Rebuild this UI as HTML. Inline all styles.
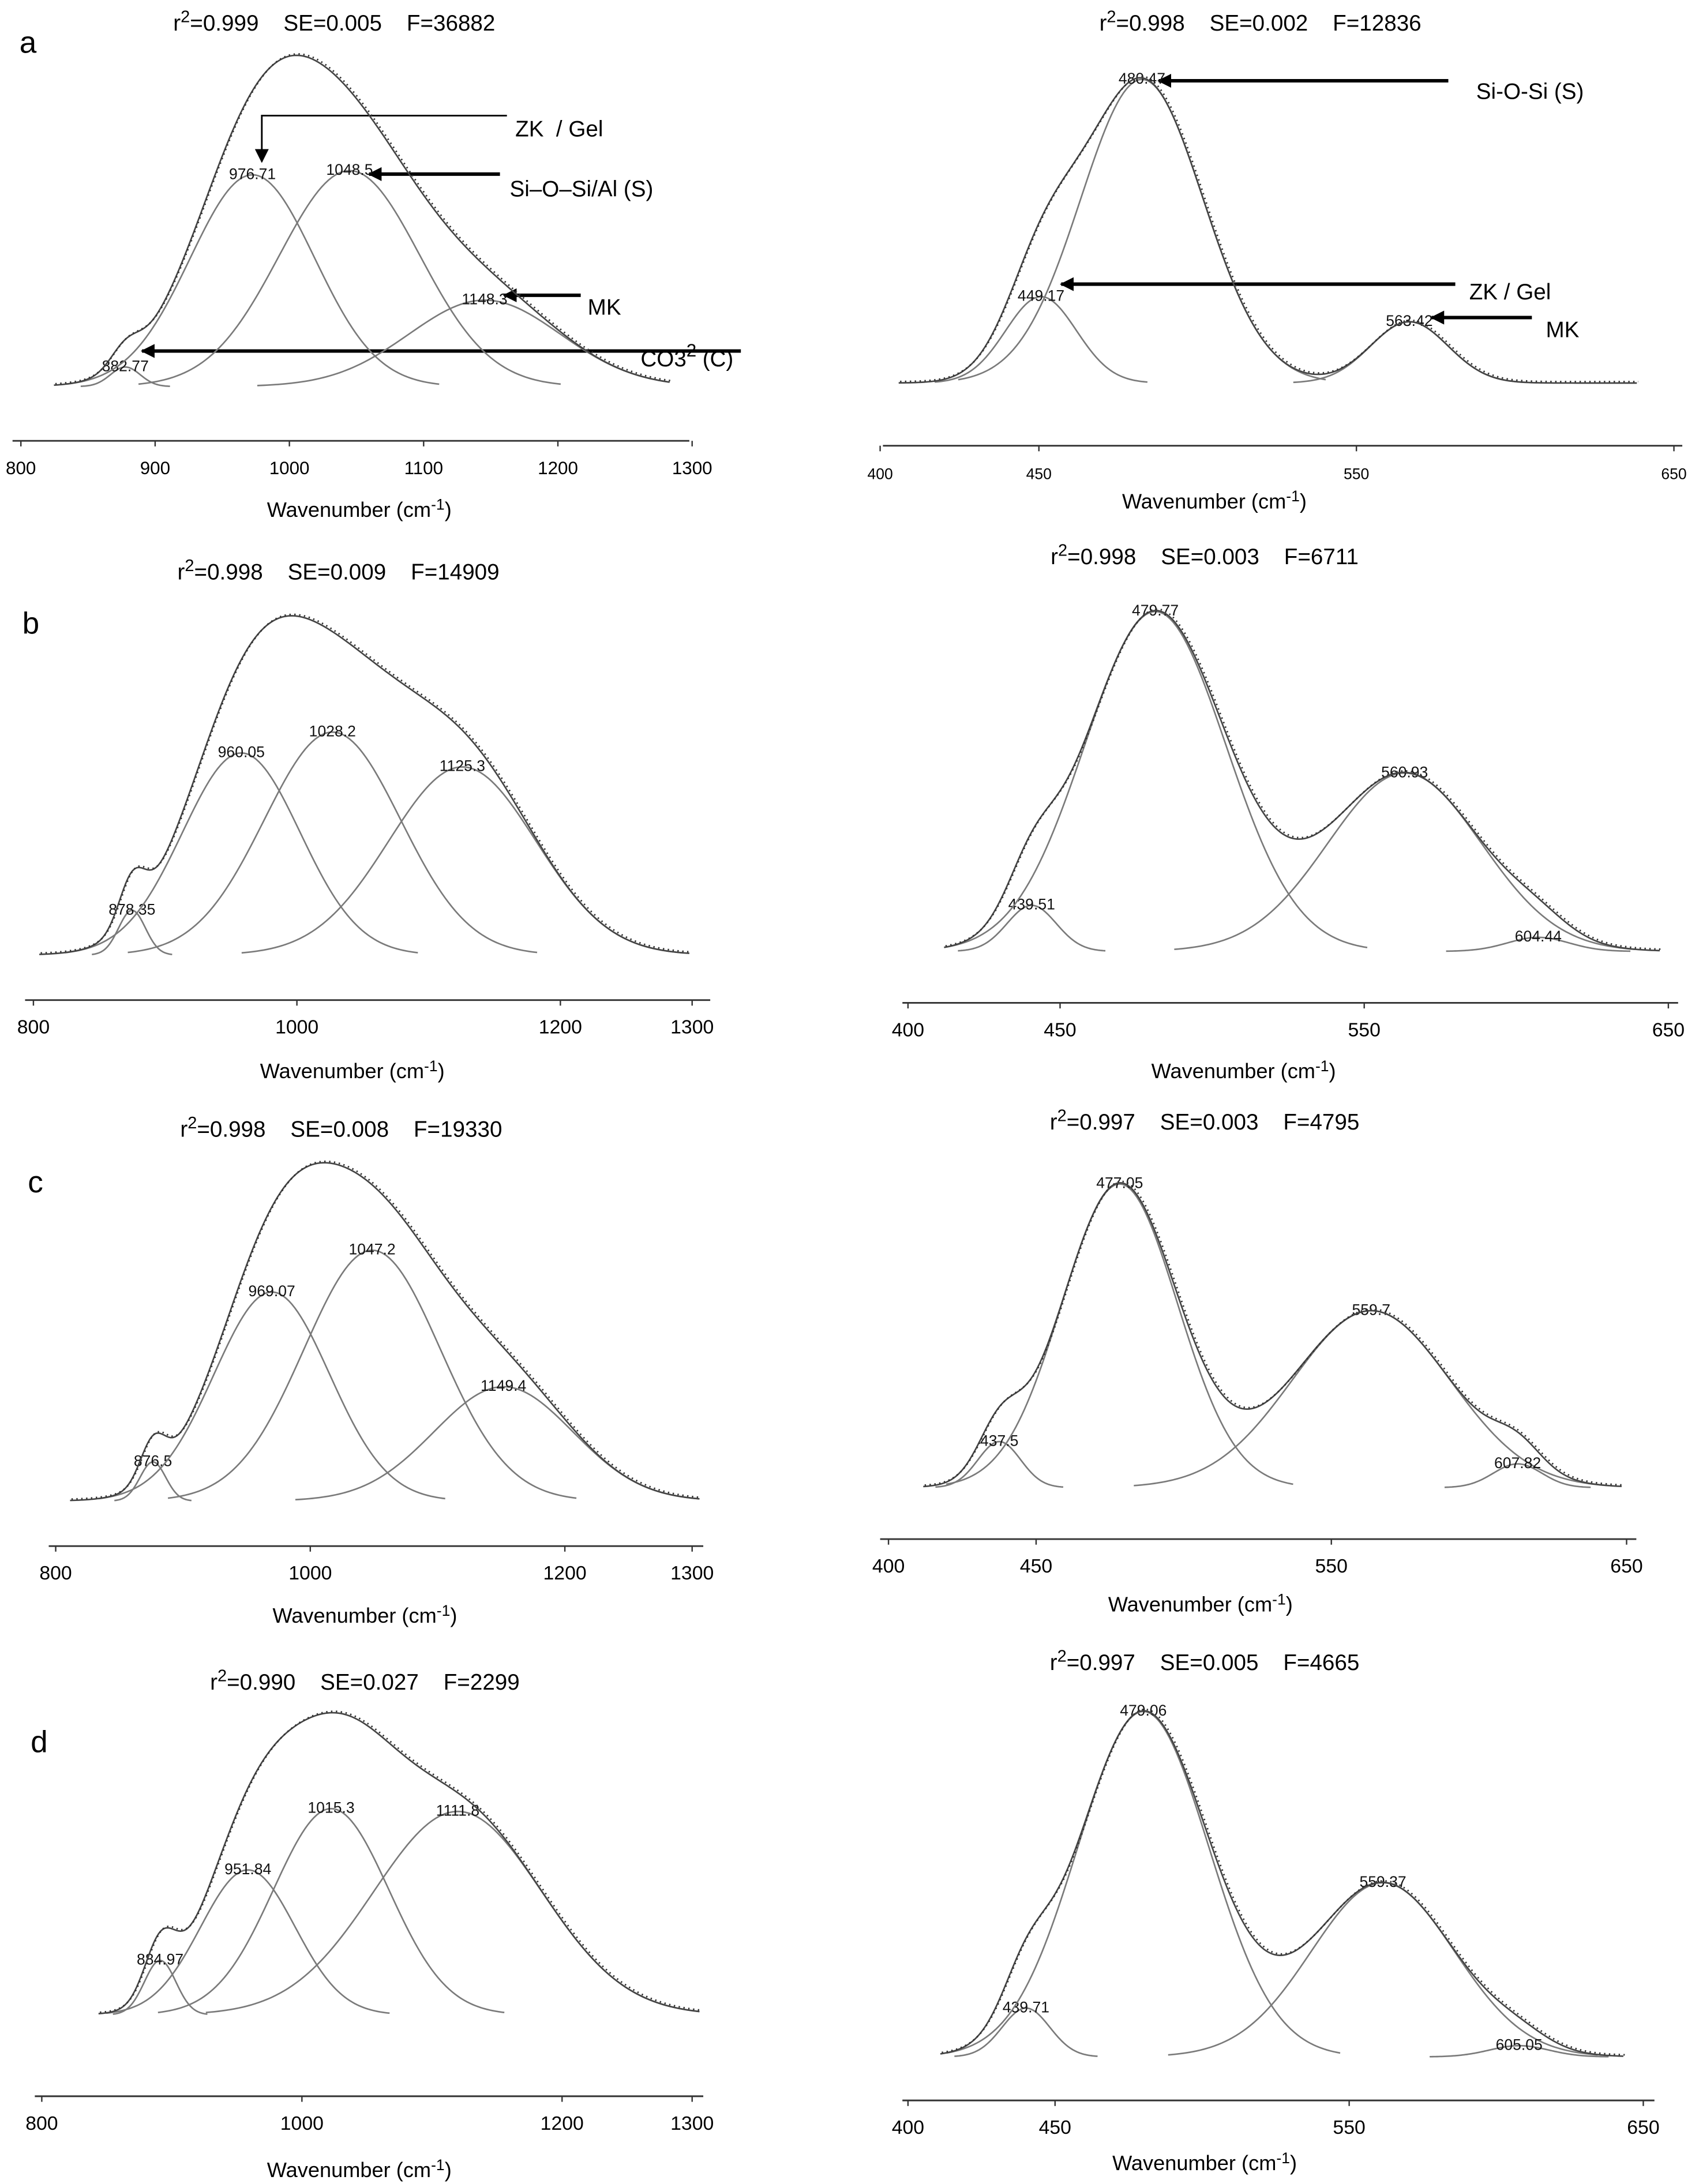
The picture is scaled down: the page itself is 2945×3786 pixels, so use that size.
<!DOCTYPE html>
<html><head><meta charset="utf-8"><title>FTIR deconvolution panels</title>
<style>
html,body{margin:0;padding:0;background:#fff;}
svg{display:block;font-family:"Liberation Sans",sans-serif;}
svg text{white-space:pre;}
</style></head>
<body>
<svg id="fig" width="2945" height="3786" viewBox="0 0 1220 1568" preserveAspectRatio="none" xmlns="http://www.w3.org/2000/svg">
<rect x="0" y="0" width="1220" height="1568" fill="#fff"/>
<defs><marker id="ah" markerWidth="10" markerHeight="10" refX="9" refY="5" orient="auto" markerUnits="userSpaceOnUse"><path d="M0,0 L10,5 L0,10 z" fill="#000"/></marker></defs>
<text x="14" y="38" font-size="22">a</text>
<text x="16" y="455" font-size="22">b</text>
<text x="20" y="856" font-size="22">c</text>
<text x="22" y="1258" font-size="22">d</text>
<text x="240" y="22" font-size="16" text-anchor="middle">r<tspan dy="-6" font-size="12">2</tspan><tspan dy="6">=0.999    SE=0.005    F=36882</tspan></text>
<text x="905" y="22" font-size="16" text-anchor="middle">r<tspan dy="-6" font-size="12">2</tspan><tspan dy="6">=0.998    SE=0.002    F=12836</tspan></text>
<text x="243" y="416" font-size="16" text-anchor="middle">r<tspan dy="-6" font-size="12">2</tspan><tspan dy="6">=0.998    SE=0.009    F=14909</tspan></text>
<text x="865" y="405" font-size="16" text-anchor="middle">r<tspan dy="-6" font-size="12">2</tspan><tspan dy="6">=0.998    SE=0.003    F=6711</tspan></text>
<text x="245" y="816" font-size="16" text-anchor="middle">r<tspan dy="-6" font-size="12">2</tspan><tspan dy="6">=0.998    SE=0.008    F=19330</tspan></text>
<text x="865" y="811" font-size="16" text-anchor="middle">r<tspan dy="-6" font-size="12">2</tspan><tspan dy="6">=0.997    SE=0.003    F=4795</tspan></text>
<text x="262" y="1213" font-size="16" text-anchor="middle">r<tspan dy="-6" font-size="12">2</tspan><tspan dy="6">=0.990    SE=0.027    F=2299</tspan></text>
<text x="865" y="1199" font-size="16" text-anchor="middle">r<tspan dy="-6" font-size="12">2</tspan><tspan dy="6">=0.997    SE=0.005    F=4665</tspan></text>
<text x="258" y="371" font-size="15" text-anchor="middle">Wavenumber (cm<tspan dy="-5" font-size="11">-1</tspan><tspan dy="5">)</tspan></text>
<text x="872" y="365" font-size="15" text-anchor="middle">Wavenumber (cm<tspan dy="-5" font-size="11">-1</tspan><tspan dy="5">)</tspan></text>
<text x="253" y="774" font-size="15" text-anchor="middle">Wavenumber (cm<tspan dy="-5" font-size="11">-1</tspan><tspan dy="5">)</tspan></text>
<text x="893" y="774" font-size="15" text-anchor="middle">Wavenumber (cm<tspan dy="-5" font-size="11">-1</tspan><tspan dy="5">)</tspan></text>
<text x="262" y="1165" font-size="15" text-anchor="middle">Wavenumber (cm<tspan dy="-5" font-size="11">-1</tspan><tspan dy="5">)</tspan></text>
<text x="862" y="1157" font-size="15" text-anchor="middle">Wavenumber (cm<tspan dy="-5" font-size="11">-1</tspan><tspan dy="5">)</tspan></text>
<text x="258" y="1563" font-size="15" text-anchor="middle">Wavenumber (cm<tspan dy="-5" font-size="11">-1</tspan><tspan dy="5">)</tspan></text>
<text x="865" y="1558" font-size="15" text-anchor="middle">Wavenumber (cm<tspan dy="-5" font-size="11">-1</tspan><tspan dy="5">)</tspan></text>
<g>
<polyline points="364,83 188,83 188,116" fill="none" stroke="#000" stroke-width="1.2" marker-end="url(#ah)"/>
<text x="370" y="98" font-size="16">ZK  / Gel</text></g>
<g>
<line x1="359" y1="125" x2="265" y2="125" stroke="#000" stroke-width="2.5" marker-end="url(#ah)"/>
<text x="366" y="141" font-size="16">Si–O–Si/Al (S)</text></g>
<g>
<line x1="417" y1="212" x2="362" y2="212" stroke="#000" stroke-width="2.5" marker-end="url(#ah)"/>
<text x="422" y="226" font-size="16">MK</text></g>
<g>
<line x1="532" y1="252" x2="102" y2="252" stroke="#000" stroke-width="2.5" marker-end="url(#ah)"/>
<text x="460" y="263" font-size="16">CO3<tspan dy="-7" font-size="13">2-</tspan><tspan dy="7">(C)</tspan></text></g>
<g>
<line x1="1040" y1="58" x2="832" y2="58" stroke="#000" stroke-width="2.5" marker-end="url(#ah)"/>
<text x="1060" y="71" font-size="16">Si-O-Si (S)</text></g>
<g>
<line x1="1045" y1="204" x2="762" y2="204" stroke="#000" stroke-width="2.5" marker-end="url(#ah)"/>
<text x="1055" y="215" font-size="16">ZK / Gel</text></g>
<g>
<line x1="1100" y1="228" x2="1028" y2="228" stroke="#000" stroke-width="2.5" marker-end="url(#ah)"/>
<text x="1110" y="242" font-size="16">MK</text></g>
</svg>
<script>
// ---- data (peak centres, heights, widths, tick labels) ----
const aL_centers=[882.77,976.71,1048.5,1148.3];
const aL_heights=[14,152,155,62];
const aL_sigmas=[11,46,52,56];
const aL_ticks=[800,900,1000,1100,1200,1300];
const aR_centers=[449.17,480.47,563.42];
const aR_heights=[62,218,44];
const aR_sigmas=[11,19,12];
const aR_ticks=[400,450,550,650];
const bL_centers=[878.35,960.05,1028.2,1125.3];
const bL_heights=[32,145,160,135];
const bL_sigmas=[10,44,51,55];
const bL_ticks=[800,1000,1200,1300];
const bR_centers=[439.51,479.77,560.93,604.44];
const bR_heights=[33,244,128,10];
const bR_sigmas=[8,23,25,10];
const bR_ticks=[400,450,550,650];
const cL_centers=[876.5,969.07,1047.2,1149.4];
const cL_heights=[28,150,180,82];
const cL_sigmas=[10,45,53,54];
const cL_ticks=[800,1000,1200,1300];
const cR_centers=[437.5,477.05,559.7,607.82];
const cR_heights=[33,218,127,17];
const cR_sigmas=[7,19,26,8];
const cR_ticks=[400,450,550,650];
const dL_centers=[884.97,951.84,1015.3,1111.8];
const dL_heights=[39,104,148,146];
const dL_sigmas=[12,36,44,64];
const dL_ticks=[800,1000,1200,1300];
const dR_centers=[439.71,479.06,559.37,605.05];
const dR_heights=[35,248,125,8];
const dR_sigmas=[8,22,24,10];
const dR_ticks=[400,450,550,650];

// ---- layout (pixel scales) ----
const layouts={
 aL:{c0:882.77,p0:90,c1:1148.3,p1:348,a0:800,ap0:15,a1:1300,ap1:497,base:277.5,axisY:316.5,ax0:9,ax1:495,wmin:830,wmax:1285,tick:13},
 aR:{c0:480.47,p0:820,c1:563.42,p1:1012,a0:400,ap0:632,a1:650,ap1:1202,base:275,axisY:320,ax0:634,ax1:1208,wmin:405,wmax:634,tick:11},
 bL:{c0:878.35,p0:94.8,c1:1125.3,p1:332,a0:800,ap0:24,a1:1300,ap1:497,base:685.6,axisY:718,ax0:18,ax1:510,wmin:809,wmax:1295,tick:14},
 bR:{c0:479.77,p0:829.6,c1:560.93,p1:1008.6,a0:400,ap0:652,a1:650,ap1:1198,base:683,axisY:720,ax0:648,ax1:1205,wmin:411,wmax:644,tick:14},
 cL:{c0:876.5,p0:109.8,c1:1149.4,p1:361.5,a0:800,ap0:40,a1:1300,ap1:497,base:1077.6,axisY:1110,ax0:35,ax1:505,wmin:812,wmax:1302,tick:14},
 cR:{c0:477.05,p0:804,c1:559.7,p1:984.6,a0:400,ap0:638,a1:650,ap1:1168,base:1068,axisY:1105,ax0:632,ax1:1175,wmin:412.5,wmax:642,tick:14},
 dL:{c0:884.97,p0:115,c1:1111.8,p1:328.7,a0:800,ap0:30,a1:1300,ap1:497,base:1446.5,axisY:1505,ax0:25,ax1:505,wmin:838,wmax:1296,tick:14},
 dR:{c0:479.06,p0:821,c1:559.37,p1:993,a0:400,ap0:652,a1:650,ap1:1180,base:1476.7,axisY:1508,ax0:648,ax1:1188,wmin:411,wmax:640,tick:14}
};
const NS='http://www.w3.org/2000/svg';
const svg=document.getElementById('fig');
function mk(tag,attrs){const e=document.createElementNS(NS,tag);for(const k in attrs)e.setAttribute(k,attrs[k]);return e;}

function drawPanel(id,centers,heights,sigmas,ticks){
 const L=layouts[id];
 const xs=w=>L.p0+(w-L.c0)*(L.p1-L.p0)/(L.c1-L.c0);
 const xa=w=>L.ap0+(w-L.a0)*(L.ap1-L.ap0)/(L.a1-L.a0);
 const ys=v=>L.base-v;
 const g=mk('g',{});
 
 
 svg.appendChild(g);
 const ax=mk('line',{x1:L.ax0,y1:L.axisY,x2:L.ax1,y2:L.axisY,stroke:'#333','stroke-width':1.2});
 
 
 g.appendChild(ax);
 ticks.forEach(t=>{
  const tx=xa(t);
  const tm=mk('line',{x1:tx,y1:L.axisY,x2:tx,y2:L.axisY+4,stroke:'#333','stroke-width':1});
  
  
  g.appendChild(tm);
  const tl=mk('text',{x:tx,y:L.axisY+24,'font-size':L.tick,'text-anchor':'middle'});
  tl.textContent=t;
  
  
  g.appendChild(tl);
 });
 centers.forEach((c,i)=>{
  const s=sigmas[i],h=heights[i];
  let d='';
  const lo=Math.max(c-3*s,L.wmin),hi=Math.min(c+3*s,L.wmax);
  for(let k=0;k<=120;k++){
   const w=lo+(hi-lo)*k/120;
   const v=h*Math.exp(-((w-c)*(w-c))/(2*s*s));
   d+=(k?'L':'M')+xs(w).toFixed(2)+','+ys(v).toFixed(2);
  }
  const p=mk('path',{d:d,fill:'none',stroke:'#7a7a7a','stroke-width':1.1});
  
  
  g.appendChild(p);
  const lb=mk('text',{x:xs(c),y:ys(h)+3,'font-size':11,'text-anchor':'middle',fill:'#111'});
  lb.textContent=String(c);
  
  
  g.appendChild(lb);
 });
 let d='';
 for(let k=0;k<=300;k++){
  const w=L.wmin+(L.wmax-L.wmin)*k/300;
  let v=0;
  centers.forEach((c,i)=>{v+=heights[i]*Math.exp(-((w-c)*(w-c))/(2*sigmas[i]*sigmas[i]));});
  d+=(k?'L':'M')+xs(w).toFixed(2)+','+ys(v).toFixed(2);
 }
 const tot=mk('path',{d:d,fill:'none',stroke:'#444','stroke-width':1.1});
 
 
 g.appendChild(tot);
 const dot=mk('path',{d:d,fill:'none',stroke:'#333','stroke-width':1.2,'stroke-dasharray':'1 2.5',transform:'translate(1,-1)'});
 
 
 g.appendChild(dot);
}
drawPanel('aL',aL_centers,aL_heights,aL_sigmas,aL_ticks);
drawPanel('aR',aR_centers,aR_heights,aR_sigmas,aR_ticks);
drawPanel('bL',bL_centers,bL_heights,bL_sigmas,bL_ticks);
drawPanel('bR',bR_centers,bR_heights,bR_sigmas,bR_ticks);
drawPanel('cL',cL_centers,cL_heights,cL_sigmas,cL_ticks);
drawPanel('cR',cR_centers,cR_heights,cR_sigmas,cR_ticks);
drawPanel('dL',dL_centers,dL_heights,dL_sigmas,dL_ticks);
drawPanel('dR',dR_centers,dR_heights,dR_sigmas,dR_ticks);
</script>
</body></html>
